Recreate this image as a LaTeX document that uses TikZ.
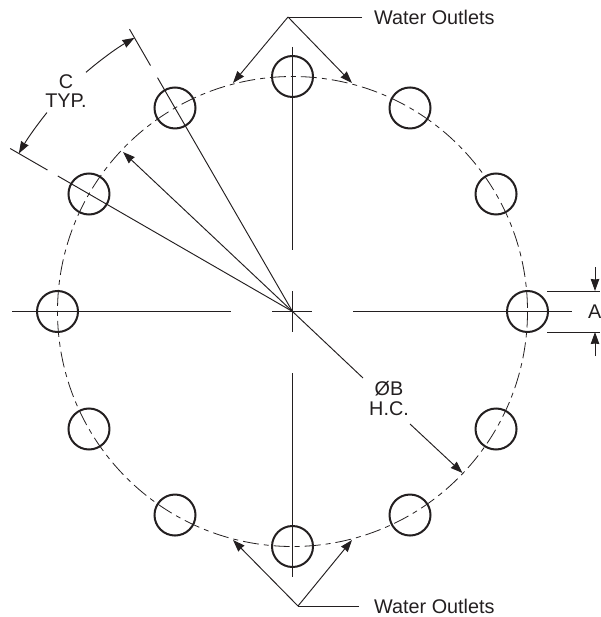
\documentclass[tikz,border=0pt]{standalone}
\usepackage{fontspec}
\setmainfont{Liberation Sans}
\usetikzlibrary{arrows.meta,calc}
\definecolor{ink}{HTML}{231F20}
\tikzset{
  thin line/.style={draw=ink,line width=0.95pt},
  hole/.style={circle,draw=ink,line width=2pt,minimum size=41pt,inner sep=0pt},
  chain/.style={draw=ink,line width=0.8pt,dash pattern=on 16pt off 5pt on 5pt off 5pt},
  leader/.style={thin line,-{Stealth[length=12pt,width=8.5pt,inset=0.5pt]}},
  label text/.style={text=ink,font=\fontsize{19.8}{19.5}\selectfont,inner sep=0pt,align=center}
}
\begin{document}
\begin{tikzpicture}[x=1pt,y=-1pt]
\useasboundingbox (0,0) rectangle (600,617);
\coordinate (O) at (292.5,311.5);
% bolt circle
\draw[chain] (O) ++(0:235) arc[start angle=0,end angle=-360,x radius=235,y radius=-235];
% holes
\foreach \a in {0,30,...,330}{
  \node[hole] (h\a) at ($(O)+(\a:235 and -235)$) {};
}
% centre lines
\coordinate (hl1) at (12,311.5);
\coordinate (hl2) at (231,311.5);
\coordinate (hc1) at (272,311.5);
\coordinate (hc2) at (312,311.5);
\coordinate (hr1) at (353,311.5);
\coordinate (hr2) at (572,311.5);
\coordinate (vt1) at (292.5,47);
\coordinate (vt2) at (292.5,250);
\coordinate (vc1) at (292.5,291);
\coordinate (vc2) at (292.5,332);
\coordinate (vb1) at (292.5,373);
\coordinate (vb2) at (292.5,577);
\draw[thin line] (hl1)--(hl2) (hc1)--(hc2) (hr1)--(hr2) (vt1)--(vt2) (vc1)--(vc2) (vb1)--(vb2);
% extension lines for C
\coordinate (e1) at ($(O)+(120:326 and -326)$);
\coordinate (e1a) at ($(O)+(120:284 and -284)$);
\coordinate (e1b) at ($(O)+(120:270 and -270)$);
\coordinate (e2) at ($(O)+(150:326 and -326)$);
\coordinate (e2a) at ($(O)+(150:283 and -283)$);
\coordinate (e2b) at ($(O)+(150:271 and -271)$);
\draw[thin line] (O)--(e1b) (e1a)--(e1) (O)--(e2b) (e2a)--(e2);
% C dimension
\node[label text] (ctext) at (66,91) {C\\TYP.};
\draw[leader] ($(O)+(130.8:316 and -316)$) arc[start angle=130.8,end angle=120,x radius=316,y radius=-316];
\draw[leader] ($(O)+(141:316 and -316)$) arc[start angle=141,end angle=150,x radius=316,y radius=-316];
% diameter
\coordinate (t1) at (123,152);
\coordinate (t2) at (462.5,473);
\coordinate (b1) at (363,378);
\coordinate (b2) at (410,424);
\node[label text] (btext) at (389,398.5) {ØB\\H.C.};
\draw[leader] (O)--(t1);
\draw[thin line] (O)--(b1);
\draw[leader] (b2)--(t2);
% water outlets top
\coordinate (ta) at (288,17);
\coordinate (tl) at (362,17);
\node[label text,anchor=west] (wt) at (374,17) {Water Outlets};
\draw[thin line] (tl)--(ta);
\coordinate (tt1) at (233,83);
\coordinate (tt2) at (352,83);
\draw[leader] (ta)--(tt1);
\draw[leader] (ta)--(tt2);
% water outlets bottom
\coordinate (ba) at (298,606);
\coordinate (bl) at (359,606);
\node[label text,anchor=west] (wb) at (374,606) {Water Outlets};
\draw[thin line] (bl)--(ba);
\coordinate (bt1) at (233,540);
\coordinate (bt2) at (352,540);
\draw[leader] (ba)--(bt1);
\draw[leader] (ba)--(bt2);
% A dimension
\coordinate (a1) at (547,291);
\coordinate (a1e) at (600,291);
\coordinate (a2) at (547,332);
\coordinate (a2e) at (600,332);
\draw[thin line] (a1)--(a1e) (a2)--(a2e);
\node[label text,anchor=west] (atext) at (588,311.5) {A};
\coordinate (s1) at (595,267);
\coordinate (s1t) at (595,291);
\coordinate (s2) at (595,356);
\coordinate (s2t) at (595,332);
\draw[leader] (s1)--(s1t);
\draw[leader] (s2)--(s2t);
\end{tikzpicture}
\end{document}
